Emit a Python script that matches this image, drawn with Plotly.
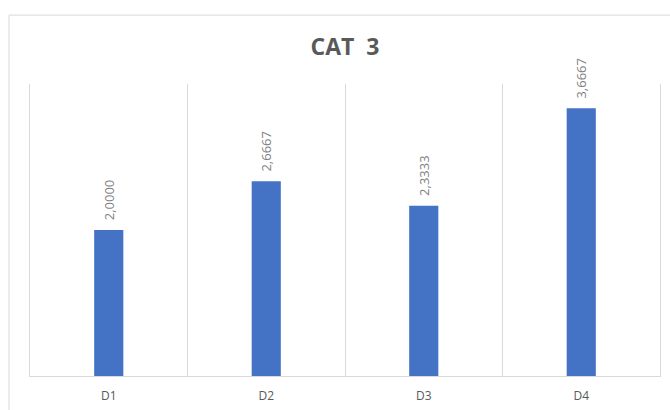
import plotly.graph_objects as go

categories = ["D1", "D2", "D3", "D4"]
values = [2.0, 2.6667, 2.3333, 3.6667]
title_text = "CAT  3"

fig = go.Figure(go.Bar(
    x=categories, y=values, width=0.185,
    marker=dict(color="#4472C4", line=dict(width=0)),
    texttemplate="\u00a0\u00a0%{y:.4f}", textposition="outside", textangle=-90,
    constraintext="none",
    textfont=dict(family="Open Sans", size=13, color="#7f7f7f"),
    cliponaxis=False,
))

fig.update_layout(
    width=670, height=410,
    margin=dict(l=30, r=10, t=84, b=34),
    paper_bgcolor="white", plot_bgcolor="white",
    separators=",.",
    showlegend=False,
    title=dict(text=title_text, x=0.5, xref="paper", xanchor="center",
               y=1 - 47/410, yref="container", yanchor="middle",
               font=dict(family="Open Sans", size=23, color="#595959", weight="bold")),
    xaxis=dict(type="category", range=[-0.5, 3.5], tickson="boundaries",
               showgrid=True, gridcolor="#d9d9d9", gridwidth=1,
               showline=True, linecolor="#d9d9d9", linewidth=1,
               ticks="", ticklabelstandoff=9, automargin=False,
               tickfont=dict(family="Open Sans", size=12, color="#595959")),
    yaxis=dict(range=[0, 4], showgrid=False, showticklabels=False, zeroline=False,
               automargin=False,
               showline=True, mirror=True, linecolor="#d9d9d9", linewidth=1, ticks=""),
    shapes=[dict(type="rect", xref="paper", yref="paper",
                 x0=-0.0333, x1=1.2, y0=-0.3, y1=1.236,
                 line=dict(color="#d9d9d9", width=1), fillcolor="rgba(0,0,0,0)", layer="below")],
)

fig.write_html("out.html")
